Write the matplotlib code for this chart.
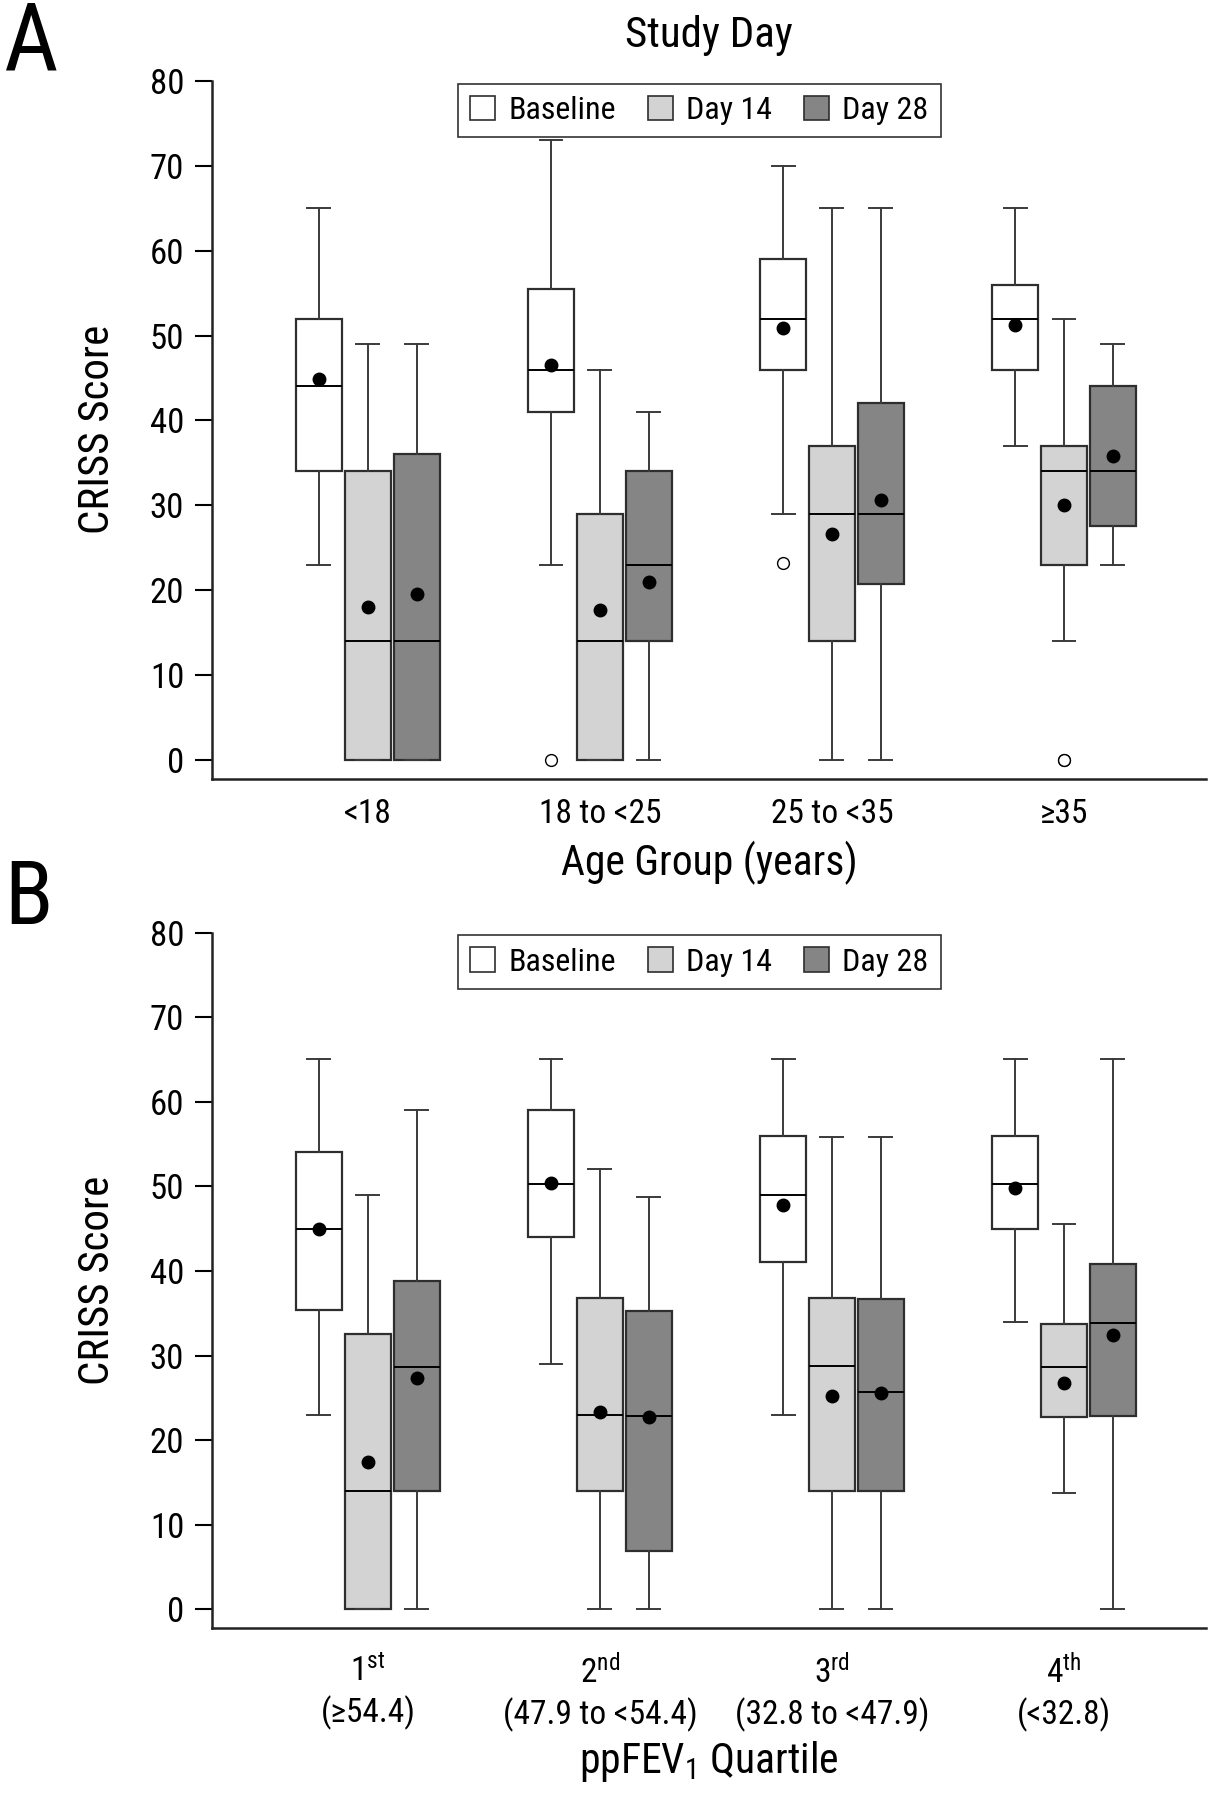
import matplotlib
matplotlib.use("Agg")
import matplotlib.pyplot as plt
from matplotlib import font_manager
from matplotlib.patches import Patch

# pick a narrow sans font if one is installed
fl = font_manager.fontManager.ttflist
names = {f.name for f in fl}
FAM = 'Liberation Sans'
STRETCH = 'normal'
for cand in ['Liberation Sans Narrow', 'Roboto Condensed', 'Open Sans Condensed',
             'Arial Narrow', 'Noto Sans Condensed']:
    if cand in names:
        FAM = cand
        break
else:
    if any(f.name == 'DejaVu Sans' and f.stretch == 'condensed' for f in fl):
        FAM, STRETCH = 'DejaVu Sans', 'condensed'
    elif any(f.name == 'Noto Sans' and f.stretch == 'condensed' for f in fl):
        FAM, STRETCH = 'Noto Sans', 'condensed'

plt.rcParams['font.family'] = [FAM, 'DejaVu Sans']
plt.rcParams['font.stretch'] = STRETCH
plt.rcParams['mathtext.fontset'] = 'custom'
plt.rcParams['mathtext.rm'] = FAM
plt.rcParams['mathtext.it'] = FAM
plt.rcParams['mathtext.default'] = 'regular'

# ---------------- data ----------------
series = ['Baseline', 'Day 14', 'Day 28']
colors = ['#ffffff', '#d3d3d3', '#858585']

age_groups = ['<18', '18 to <25', '25 to <35', '≥35']
a_whislo = [[23, 23, 29, 37], [0, 0, 0, 14], [0, 0, 0, 23]]
a_q1 = [[34, 41, 46, 46], [0, 0, 14, 23], [0, 14, 20.7, 27.5]]
a_med = [[44, 46, 52, 52], [14, 14, 29, 34], [14, 23, 29, 34]]
a_q3 = [[52, 55.5, 59, 56], [34, 29, 37, 37], [36, 34, 42, 44]]
a_whishi = [[65, 73, 70, 65], [49, 46, 65, 52], [49, 41, 65, 49]]
a_mean = [[44.9, 46.5, 50.9, 51.2], [18.0, 17.6, 26.6, 30.0], [19.6, 21.0, 30.6, 35.8]]
a_fliers = [[[], [0], [23.2], []], [[], [], [], [0, 0]], [[], [], [], []]]

fev_groups = ['1$^{st}$\n(≥54.4)', '2$^{nd}$\n(47.9 to <54.4)',
              '3$^{rd}$\n(32.8 to <47.9)', '4$^{th}$\n(<32.8)']
b_whislo = [[23, 29, 23, 34], [0, 0, 0, 13.7], [0, 0, 0, 0]]
b_q1 = [[35.4, 44, 41, 45], [0, 14, 14, 22.7], [14, 6.9, 14, 22.9]]
b_med = [[45, 50.3, 49, 50.3], [14, 23, 28.8, 28.6], [28.7, 22.9, 25.7, 33.9]]
b_q3 = [[54, 59, 56, 56], [32.5, 36.8, 36.8, 33.7], [38.8, 35.3, 36.7, 40.8]]
b_whishi = [[65, 65, 65, 65], [49, 52, 55.8, 45.5], [59, 48.7, 55.8, 65]]
b_mean = [[45, 50.4, 47.8, 49.8], [17.4, 23.3, 25.2, 26.7], [27.3, 22.7, 25.6, 32.4]]
b_fliers = [[[], [], [], []], [[], [], [], []], [[], [], [], []]]

yticks = [0, 10, 20, 30, 40, 50, 60, 70, 80]

# ---------------- figure ----------------
W, H = 1208, 1800
fig = plt.figure(figsize=(W / 100, H / 100), dpi=100)

EDGE = '#2e2e2e'
offsets = [-0.211, 0.0, 0.211]
bw = 0.198


def panel(ax, whislo, q1, med, q3, whishi, mean, fliers, labels, xpad, lsp):
    for s in range(3):
        stats = []
        for g in range(len(labels)):
            stats.append(dict(whislo=whislo[s][g], q1=q1[s][g], med=med[s][g],
                              q3=q3[s][g], whishi=whishi[s][g], mean=mean[s][g],
                              fliers=fliers[s][g]))
        ax.bxp(stats, positions=[g + offsets[s] for g in range(len(labels))],
               widths=bw, capwidths=bw * 0.5, patch_artist=True, showmeans=True,
               boxprops=dict(facecolor=colors[s], edgecolor=EDGE, linewidth=1.6),
               whiskerprops=dict(color='#3a3a3a', linewidth=1.4),
               capprops=dict(color='#3a3a3a', linewidth=1.4),
               medianprops=dict(color='black', linewidth=1.4),
               meanprops=dict(marker='o', markerfacecolor='black',
                              markeredgecolor='black', markersize=9),
               flierprops=dict(marker='o', markerfacecolor='white',
                               markeredgecolor='black', markersize=8.5,
                               markeredgewidth=1.0))
    ax.set_xlim(-0.672, 3.612)
    ax.set_ylim(-2.2, 80)
    ax.set_yticks(yticks)
    ax.set_xticks(range(len(labels)))
    ax.set_xticklabels(labels, fontsize=24, linespacing=lsp)
    ax.tick_params(axis='x', length=0, pad=xpad)
    ax.tick_params(axis='y', length=12, width=1.5, labelsize=25, pad=8, direction='out')
    for sp in ['top', 'right']:
        ax.spines[sp].set_visible(False)
    for sp in ['left', 'bottom']:
        ax.spines[sp].set_linewidth(1.8)
        ax.spines[sp].set_color('#222222')
    ax.set_ylabel('CRISS Score', fontsize=31)
    ax.yaxis.set_label_coords(-0.095, 0.5)
    handles = [Patch(facecolor=c, edgecolor=EDGE, linewidth=1.2) for c in colors]
    leg = ax.legend(handles, series, loc='upper center', bbox_to_anchor=(0.49, 0.996),
                    ncol=3, fontsize=23, frameon=True, fancybox=False,
                    edgecolor='black', handlelength=0.8, handleheight=0.8,
                    handletextpad=0.4, columnspacing=1.0, borderpad=0.38,
                    borderaxespad=0.0)
    leg.get_frame().set_linewidth(1.2)


left = 212 / W
right = 1206 / W
axA = fig.add_axes([left, 1 - 778.5 / H, right - left, (778.5 - 81) / H])
panel(axA, a_whislo, a_q1, a_med, a_q3, a_whishi, a_mean, a_fliers, age_groups, 14, 1.2)
axA.set_xlabel('Age Group (years)', fontsize=30, labelpad=8)

axB = fig.add_axes([left, 1 - 1628 / H, right - left, (1628 - 932.5) / H])
panel(axB, b_whislo, b_q1, b_med, b_q3, b_whishi, b_mean, b_fliers, fev_groups, 20, 1.25)
axB.set_xlabel('ppFEV$_1$ Quartile', fontsize=30, labelpad=5)

fig.text(709 / W, 1 - 35 / H, 'Study Day', ha='center', va='center', fontsize=31)
fig.text(4 / W, 1 - 44 / H, 'A', ha='left', va='center', fontsize=68)
fig.text(4 / W, 1 - 899 / H, 'B', ha='left', va='center', fontsize=64)

fig.savefig('out.png', dpi=100)
